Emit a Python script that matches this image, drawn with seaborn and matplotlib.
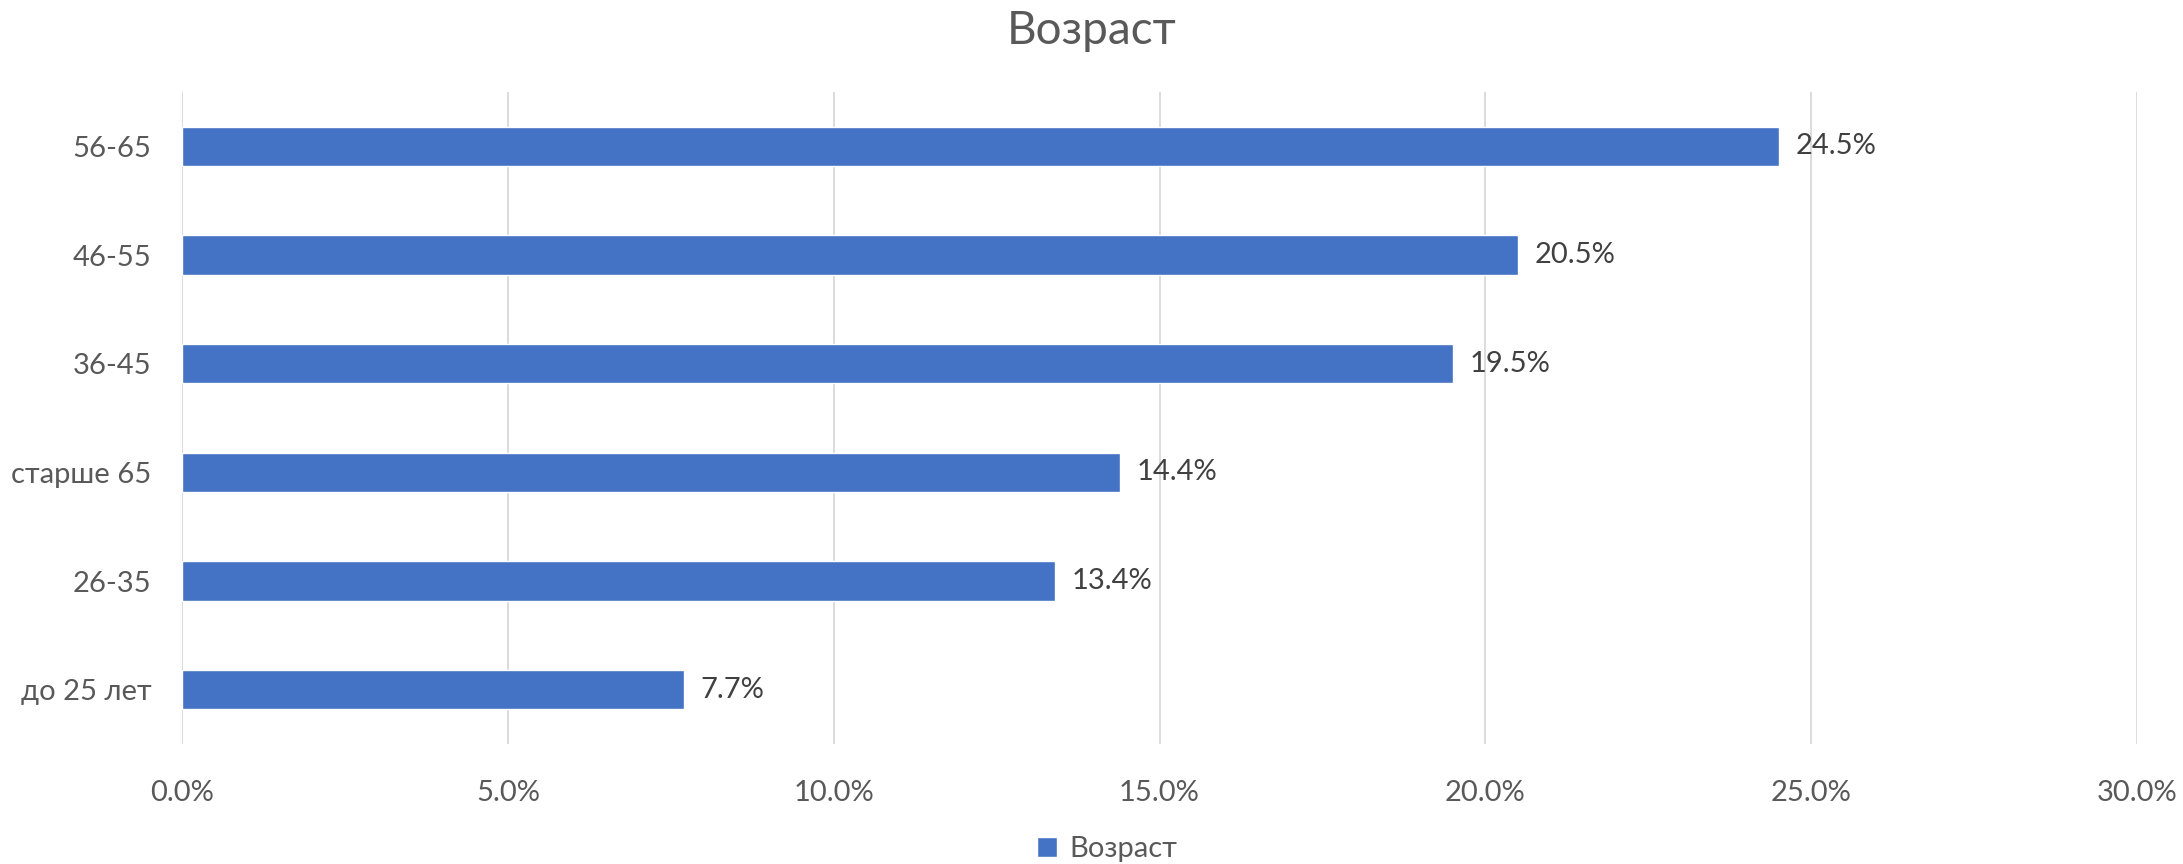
import matplotlib
matplotlib.use("Agg")
import matplotlib.pyplot as plt
import seaborn as sns
import pandas as pd
from matplotlib.patches import Patch
from matplotlib.ticker import FuncFormatter, MultipleLocator

categories = ["56-65", "46-55", "36-45", "старше 65", "26-35", "до 25 лет"]
values = [24.5, 20.5, 19.5, 14.4, 13.4, 7.7]
series_name = "Возраст"
title = "Возраст"

df = pd.DataFrame({"cat": categories, "val": values})

sns.set_theme(style="white")
plt.rcParams["font.family"] = ["Lato", "DejaVu Sans"]

fig = plt.figure(figsize=(21.83, 8.64), dpi=100)
ax = fig.add_axes([182/2183, 1-744/864, (2137-182)/2183, (744-92)/864])

sns.barplot(data=df, y="cat", x="val", order=categories, orient="h",
            color="#4472C4", saturation=1, width=0.36, ax=ax)

ax.set_xlim(0, 30)
ax.xaxis.set_major_locator(MultipleLocator(5))
ax.xaxis.set_major_formatter(FuncFormatter(lambda x, p: f"{x:.1f}%"))
ax.grid(axis="x", color="#D9D9D9", linewidth=1.3)
ax.set_axisbelow(True)
for s in ax.spines.values():
    s.set_visible(False)
ax.set_xlabel("")
ax.set_ylabel("")
ax.tick_params(axis="both", length=0, labelsize=21, labelcolor="#595959")
ax.tick_params(axis="x", pad=26)
ax.tick_params(axis="y", pad=22)

ax.bar_label(ax.containers[0], labels=[f"{v:.1f}%" for v in values],
             padding=12, fontsize=21, color="#404040")

fig.text(0.5, 1-31/864, title, ha="center", va="center", fontsize=33, color="#595959")

fig.legend(handles=[Patch(facecolor="#4472C4", label=series_name)],
           loc="center", bbox_to_anchor=(1107/2183, 1-849/864), frameon=False,
           fontsize=21, labelcolor="#595959", handlelength=0.7, handleheight=0.7,
           handletextpad=0.4)

fig.savefig("out.png", dpi=100)
